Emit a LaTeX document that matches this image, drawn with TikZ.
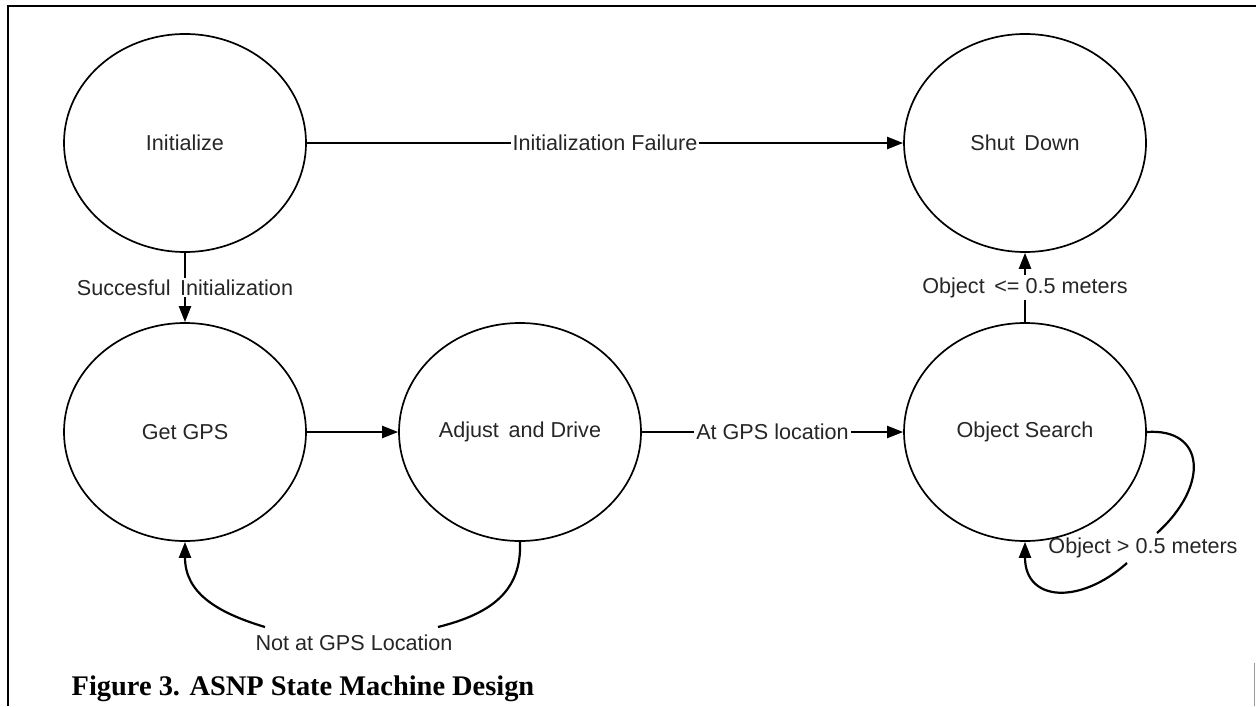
\documentclass[tikz,border=0pt]{standalone}
\usepackage{fontspec}
\setmainfont{Liberation Serif}
\newfontfamily\diagfont{Liberation Sans}
\usetikzlibrary{shapes.geometric,arrows.meta}
\begin{document}
\begin{tikzpicture}[x=0.5pt,y=-0.5pt,
  state/.style={draw,ellipse,line width=0.85pt,minimum width=121pt,minimum height=109pt,inner sep=0pt,text=black!85,font=\diagfont\fontsize{10.8}{12}\selectfont},
  edge/.style={line width=1.1pt,-{Triangle[length=8pt,width=6pt]}},
  plain/.style={line width=1.1pt},
  elabel/.style={fill=white,inner sep=1pt,text=black!85,font=\diagfont\fontsize{10.8}{12}\selectfont},
  flabel/.style={inner sep=1pt,text=black!85,font=\diagfont\fontsize{10.8}{12}\selectfont}]
\useasboundingbox (0,0) rectangle (1256,706);
% frame
\draw[line width=1pt] (8,706) -- (8,6) -- (1256,6);
\draw[line width=0.5pt,black!40] (1254.5,663) -- (1254.5,706);
% states
\node[state] (init) at (185,143) {Initialize};
\node[state] (shut) at (1025,143) {Shut\, Down};
\node[state] (gps) at (185,432) {Get GPS};
\node[state] (adj) at (520,432) {Adjust\, and Drive};
\node[state] (search) at (1025,432) {Object Search};
% edges
\draw[edge] (init) -- node[elabel] (lfail) {Initialization Failure} (shut);
\draw[edge] (init) -- node[elabel] (lsucc) {Succesful\, Initialization} (gps);
\draw[edge] (gps) -- (adj);
\draw[edge] (adj) -- node[elabel] (lat) {At GPS location} (search);
\draw[edge] (search) -- node[elabel] (lobj) {Object\, <= 0.5 meters} (shut);
% not at GPS location
\coordinate (n1) at (438,627);
\coordinate (n2) at (265,627);
\draw[plain] (adj.south) .. controls (522,592) and (490,614) .. (n1);
\draw[edge] (n2) .. controls (215,612) and (185,592) .. (gps.south);
\node[flabel] (lnot) at (354,643) {Not at GPS Location};
% self loop
\coordinate (s1) at (1157,533);
\coordinate (s2) at (1127,563);
\draw[plain] (search.east) .. controls (1205,428) and (1210,485) .. (s1);
\draw[edge] (s2) .. controls (1080,605) and (1025,602) .. (search.south);
\node[flabel] (lgt) at (1143,548) {Object > 0.5 meters};
% caption
\node[font=\bfseries\fontsize{14.2}{16}\selectfont,inner sep=0pt] (cap) at (303,689) {Figure 3. ASNP State Machine Design};
\end{tikzpicture}
\end{document}
